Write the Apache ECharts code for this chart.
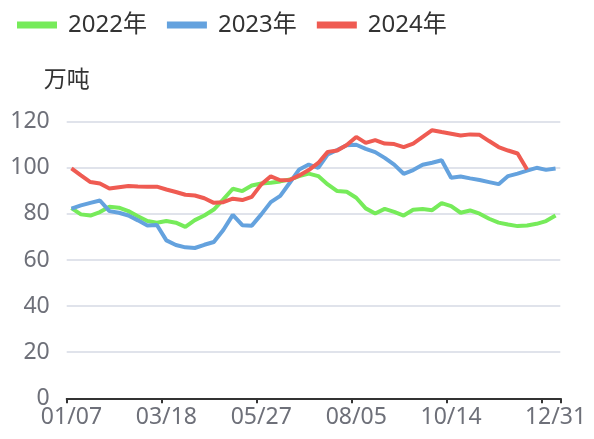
<!DOCTYPE html>
<html>
<head>
<meta charset="utf-8">
<script src="https://cdn.jsdelivr.net/npm/echarts@6/dist/echarts.min.js"></script>
<style>
html,body{margin:0;padding:0;background:#fff;}
#chart{width:594px;height:439px;}
</style>
</head>
<body>
<div id="chart"></div>
<script>
var categories = ['01/07','01/14','01/21','01/28','02/04','02/11','02/18','02/25','03/04','03/11',
  '03/18','03/25','04/01','04/08','04/15','04/22','04/29','05/06','05/13','05/20',
  '05/27','06/03','06/10','06/17','06/24','07/01','07/08','07/15','07/22','07/29',
  '08/05','08/12','08/19','08/26','09/02','09/09','09/16','09/23','09/30','10/07',
  '10/14','10/21','10/28','11/04','11/11','11/18','11/25','12/02','12/09','12/16',
  '12/23','12/31'];

var seriesNames = ['2022年','2023年','2024年'];

var data2022 = [82.5,79.8,79.3,80.8,83.1,82.7,81.2,79.0,76.9,76.2,
  76.9,76.2,74.4,77.3,79.3,81.9,86.3,90.9,89.9,92.3,
  93.2,93.5,94.1,94.9,96.4,97.5,96.4,92.8,89.9,89.6,
  87.0,82.4,80.2,82.2,80.9,79.3,81.8,82.1,81.6,84.7,
  83.4,80.5,81.5,80.1,77.9,76.2,75.4,74.7,75.0,75.7,
  76.9,79.3];

var data2023 = [82.3,83.7,84.8,85.8,81.2,80.5,79.3,77.2,75.0,75.2,
  68.5,66.5,65.5,65.2,66.6,67.8,73.0,79.6,75.1,74.9,
  79.8,85.1,87.8,93.5,99.3,101.4,100.0,105.8,107.7,109.8,
  110.0,108.2,106.8,104.3,101.4,97.4,99.0,101.3,102.2,103.3,
  95.7,96.2,95.4,94.7,93.8,92.9,96.4,97.5,98.8,100.0,
  99.1,99.7];

var data2024 = [99.7,96.7,93.8,93.2,91.0,91.6,92.1,91.9,91.8,91.8,
  90.6,89.5,88.3,88.0,86.8,84.8,85.1,86.6,86.0,87.4,
  92.8,96.3,94.6,94.7,96.7,99.0,102.1,106.9,107.5,109.9,
  113.4,110.8,112.0,110.5,110.3,109.0,110.5,113.4,116.3,115.5,
  114.8,114.0,114.5,114.3,111.6,109.0,107.5,106.2,99.3];

var colors = ['#76EB5A','#64A2DE','#EF5B52'];
var yAxisName = '万吨';

var FONT = '"Noto Sans", "Noto Sans CJK SC", sans-serif';
var chart = echarts.init(document.getElementById('chart'), null, {renderer:'canvas'});
var lastIdx = categories.length - 1;

chart.setOption({
  animation: false,
  color: colors,
  textStyle: {fontFamily: FONT},
  legend: {
    top: 8,
    left: 12,
    icon: 'rect',
    itemWidth: 40,
    itemHeight: 7,
    itemGap: 20,
    textStyle: {fontSize: 24, color: '#333', fontFamily: FONT, padding: [0, 0, 0, 6]},
    data: seriesNames
  },
  grid: {left: 66.7, right: 33.7, top: 121.7, bottom: 40.7, containLabel: false},
  xAxis: {
    type: 'category',
    data: categories,
    boundaryGap: true,
    axisLine: {lineStyle: {color: '#333', width: 2}},
    axisTick: {show: true, length: 5, interval: 9, lineStyle: {color: '#333', width: 2}},
    axisLabel: {
      fontSize: 23, color: '#6E7079', fontFamily: FONT, margin: 8,
      interval: function (i) { return (i % 10 === 0 && i !== 50) || i === lastIdx; }
    }
  },
  yAxis: {
    type: 'value',
    min: 0, max: 120, interval: 20,
    name: yAxisName,
    nameLocation: 'end',
    nameGap: 30,
    nameTextStyle: {fontSize: 23, color: '#333', fontFamily: FONT, align: 'center'},
    axisLine: {show: false},
    axisTick: {show: false},
    axisLabel: {fontSize: 23, color: '#6E7079', fontFamily: FONT, margin: 17},
    splitLine: {lineStyle: {color: '#D6DAE5', width: 1.5}}
  },
  series: [
    {name: seriesNames[0], type: 'line', data: data2022, showSymbol: false, symbol: 'none', lineStyle: {width: 4}, z: 2},
    {name: seriesNames[1], type: 'line', data: data2023, showSymbol: false, symbol: 'none', lineStyle: {width: 4}, z: 3},
    {name: seriesNames[2], type: 'line', data: data2024, showSymbol: false, symbol: 'none', lineStyle: {width: 4}, z: 4}
  ]
});
</script>
</body>
</html>
